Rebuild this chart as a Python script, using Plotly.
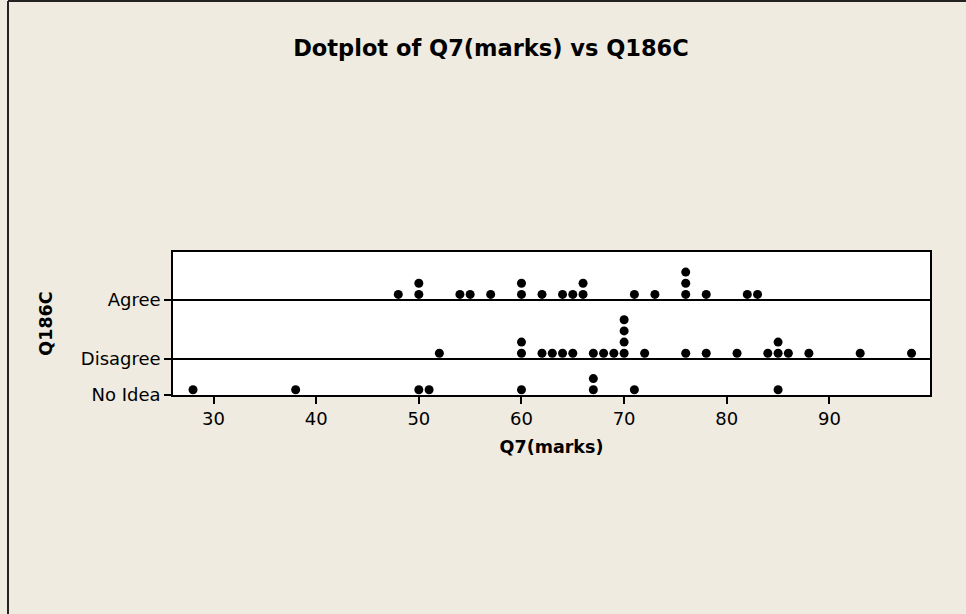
import plotly.graph_objects as go

# ---- data ----
categories = ["No Idea", "Disagree", "Agree"]
agree_marks = [48, 50, 50, 54, 55, 57, 60, 60, 62, 64, 65, 66, 66, 71, 73, 76, 76, 76, 78, 82, 83]
disagree_marks = [52, 60, 60, 62, 63, 64, 65, 67, 68, 69, 70, 70, 70, 70, 72, 76, 78, 81, 84, 85, 85, 86, 88, 93, 98]
noidea_marks = [28, 38, 50, 51, 60, 67, 67, 71, 85]
x_ticks = [30, 40, 50, 60, 70, 80, 90]

series = {"No Idea": noidea_marks, "Disagree": disagree_marks, "Agree": agree_marks}

# ---- layout constants ----
W, H = 966, 614
ML, MR, MT, MB = 173, 36, 252, 219
BG = "#EFEBE0"
GAP = 1.27       # extra room per row (in dot units)
OFFSET = 0.47    # first dot above row line

# compute row baselines and stacked dot positions
bases = {}
cur = 0.0
xs, ys = [], []
for cat in categories:
    vals = series[cat]
    bases[cat] = cur
    counts = {}
    for v in vals:
        k = counts.get(v, 0)
        counts[v] = k + 1
        xs.append(v)
        ys.append(cur + OFFSET + k)
    cur += max(vals.count(v) for v in set(vals)) + GAP
y_top = cur

fig = go.Figure()
fig.add_trace(go.Scatter(
    x=xs, y=ys, mode="markers",
    marker=dict(color="black", size=9, line=dict(width=0)),
    showlegend=False, hoverinfo="x",
))

FONT = "DejaVu Sans"
fig.update_layout(
    width=W, height=H,
    margin=dict(l=ML, r=MR, t=MT, b=MB, pad=0),
    paper_bgcolor=BG, plot_bgcolor="white",
    title=dict(text="<b>Dotplot of Q7(marks) vs Q186C</b>",
               x=491 / W, xanchor="center", y=1 - 48 / H, yanchor="middle",
               font=dict(family=FONT, size=22.5, color="black")),
    font=dict(family=FONT, color="black"),
    xaxis=dict(range=[26.05, 99.8], tickvals=x_ticks, ticks="outside", ticklen=7,
               tickwidth=1.5, tickcolor="black", showgrid=False, zeroline=False,
               showline=True, linecolor="black", linewidth=1.5, mirror=True,
               tickfont=dict(size=18, family=FONT),
               title=dict(text="<b>Q7(marks)</b>", font=dict(size=17.5, family=FONT), standoff=12)),
    yaxis=dict(range=[0, y_top], tickvals=[bases[c] for c in categories], ticktext=categories,
               ticks="outside", ticklen=7, tickwidth=1.5, tickcolor="black",
               showgrid=True, gridcolor="black", gridwidth=1.5, zeroline=False,
               showline=True, linecolor="black", linewidth=1.5, mirror=True,
               tickfont=dict(size=18, family=FONT),
               title=dict(text="<b>Q186C</b>", font=dict(size=17.5, family=FONT), standoff=24)),
)

# outer frame (left and top edges visible)
pw = W - ML - MR
ph = H - MT - MB
def px_x(p):
    return (p - ML) / pw
def px_y(p):
    return (H - MB - p) / ph
fig.add_shape(type="line", xref="paper", yref="paper",
              x0=px_x(8), x1=px_x(8), y0=px_y(1), y1=px_y(H),
              line=dict(color="#222222", width=2))
fig.add_shape(type="line", xref="paper", yref="paper",
              x0=px_x(8), x1=px_x(W), y0=px_y(1), y1=px_y(1),
              line=dict(color="#222222", width=2))

fig.write_html("out.html")
